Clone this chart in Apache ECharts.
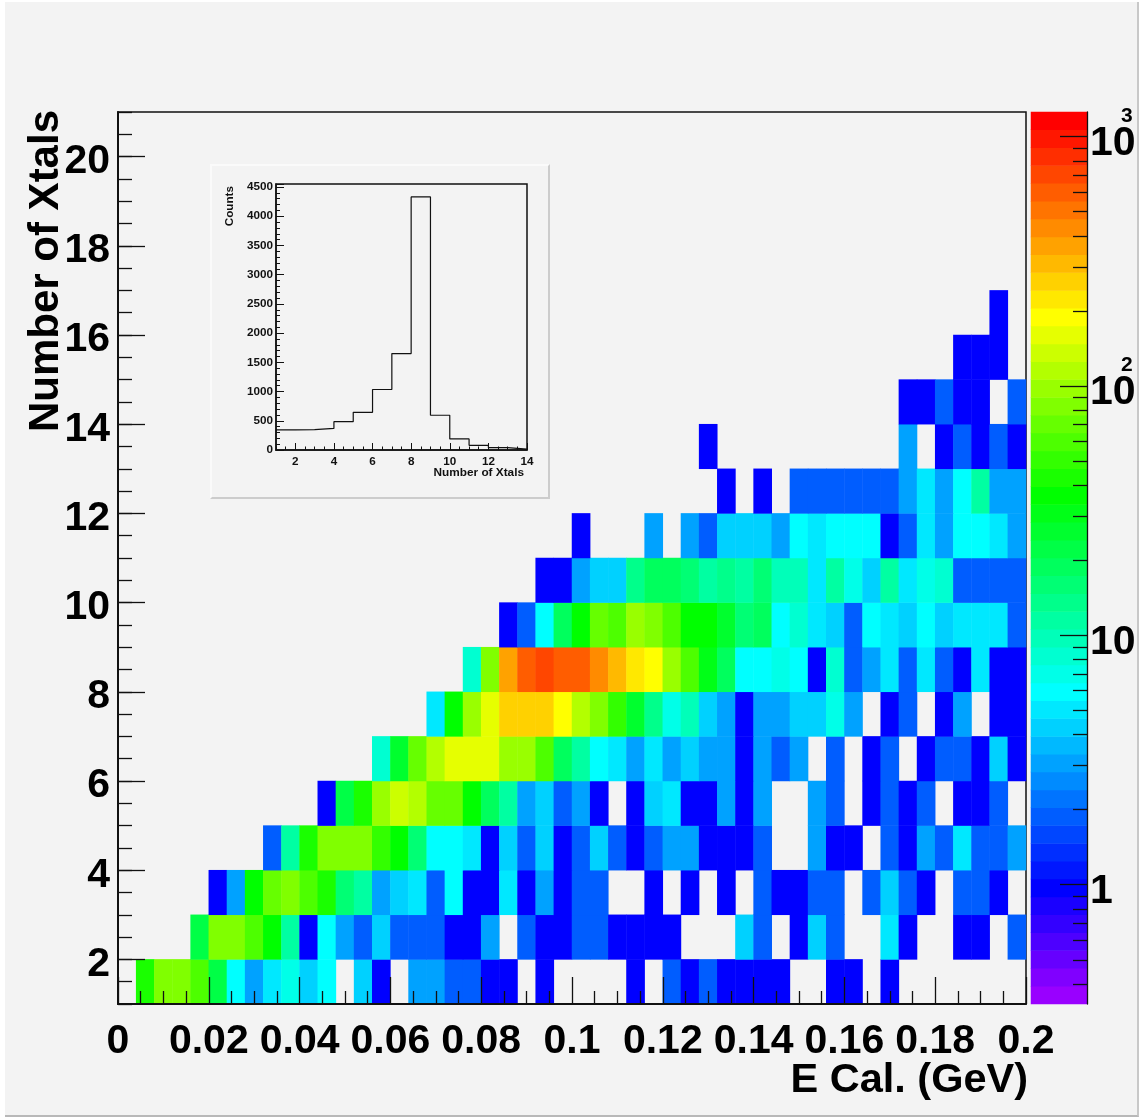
<!DOCTYPE html>
<html><head><meta charset="utf-8">
<style>
html,body{margin:0;padding:0;background:#fff;width:1144px;height:1120px;overflow:hidden}
#pane{position:absolute;left:5px;top:2px;width:1132px;height:1113px;background:#f3f3f3;border-right:2px solid #c8c8c8;border-bottom:2px solid #b8b8b8}
#pad{position:absolute;left:210px;top:164px;width:336px;height:331px;background:#f3f3f3;border:solid 2px;border-color:#fafafa #cccccc #cccccc #fafafa}
#chart{position:absolute;left:0;top:0;width:1144px;height:1120px}
</style>
<script src="https://cdn.jsdelivr.net/npm/echarts@6/dist/echarts.min.js"></script>
</head><body>
<div id="pane"></div><div id="pad"></div><div id="chart"></div>
<script>
// Counts per (E bin, Xtal bin); each row is one Number-of-Xtals bin, 50 E Cal. bins from 0 to 0.2 GeV
const row1  = [0,43,83,83,60,22,6,3,5,7, 4,6,0,4,1,0,3,3,2,2, 1,1,0,1,0,0,0,0,1,0, 2,1,2,1,1,1,1,0,0,1, 1,0,1,0,0,0,0,0,0,0];
const row2  = [0,0,0,0,22,83,83,60,37,11, 1,6,3,2,4,2,2,2,1,1, 3,0,2,1,1,2,2,1,1,1, 1,0,0,0,4,2,0,1,4,2, 0,0,5,1,0,0,1,1,0,2];
const row3  = [0,0,0,0,0,1,3,37,71,83, 60,43,15,11,3,4,5,2,6,1, 1,5,1,3,1,2,2,0,0,1, 0,1,0,1,0,2,1,1,2,2, 0,2,4,2,1,0,2,2,1,0];
const row4  = [0,0,0,0,0,0,0,0,2,11, 43,83,83,83,51,37,17,6,6,5, 1,4,2,4,1,2,4,2,1,2, 3,3,1,1,1,2,0,0,3,1, 1,0,2,1,3,2,5,2,2,3];
const row5  = [0,0,0,0,0,0,0,0,0,0, 0,1,22,43,105,137,116,71,71,37, 19,11,3,4,2,3,1,0,1,4, 5,1,1,3,1,3,0,0,3,2, 0,1,2,1,2,0,1,1,2,0];
const row6  = [0,0,0,0,0,0,0,0,0,0, 0,0,0,0,8,26,71,116,161,161, 161,98,98,60,19,11,6,5,3,5, 3,4,3,3,1,3,2,3,0,2, 0,1,2,0,1,2,2,1,4,1];
const row7  = [0,0,0,0,0,0,0,0,0,0, 0,0,0,0,0,0,0,5,37,98, 161,265,265,265,190,116,83,51,26,13, 7,9,4,3,1,3,3,4,4,7, 3,0,1,2,0,1,3,0,1,1];
const row8  = [0,0,0,0,0,0,0,0,0,0, 0,0,0,0,0,0,0,0,0,8, 83,368,604,713,604,604,435,312,225,190, 98,60,31,19,6,6,7,6,1,8, 2,3,5,2,5,2,1,5,1,1];
const row9  = [0,0,0,0,0,0,0,0,0,0, 0,0,0,0,0,0,0,0,0,0, 0,1,2,6,19,37,71,60,98,83, 60,37,37,26,15,19,6,8,5,4, 2,6,5,4,6,4,5,5,5,2];
const row10 = [0,0,0,0,0,0,0,0,0,0, 0,0,0,0,0,0,0,0,0,0, 0,0,0,1,1,3,4,4,13,19, 19,16,11,13,11,17,9,9,5,11, 7,4,11,5,7,8,2,2,2,2];
const row11 = [0,0,0,0,0,0,0,0,0,0, 0,0,0,0,0,0,0,0,0,0, 0,0,0,0,0,1,0,0,0,3, 0,3,2,4,4,4,3,6,5,6, 6,6,1,2,5,3,6,6,5,3];
const row12 = [0,0,0,0,0,0,0,0,0,0, 0,0,0,0,0,0,0,0,0,0, 0,0,0,0,0,0,0,0,0,0, 0,0,0,1,0,1,0,2,2,2, 2,2,2,3,5,3,6,11,3,3];
const row13 = [0,0,0,0,0,0,0,0,0,0, 0,0,0,0,0,0,0,0,0,0, 0,0,0,0,0,0,0,0,0,0, 0,0,1,0,0,0,0,0,0,0, 0,0,0,3,0,1,2,1,2,1];
const row14 = [0,0,0,0,0,0,0,0,0,0, 0,0,0,0,0,0,0,0,0,0, 0,0,0,0,0,0,0,0,0,0, 0,0,0,0,0,0,0,0,0,0, 0,0,0,1,1,2,1,1,0,2];
const row15 = [0,0,0,0,0,0,0,0,0,0, 0,0,0,0,0,0,0,0,0,0, 0,0,0,0,0,0,0,0,0,0, 0,0,0,0,0,0,0,0,0,0, 0,0,0,0,0,0,1,1,1,0];
const row16 = [0,0,0,0,0,0,0,0,0,0, 0,0,0,0,0,0,0,0,0,0, 0,0,0,0,0,0,0,0,0,0, 0,0,0,0,0,0,0,0,0,0, 0,0,0,0,0,0,0,0,1,0];
const rows = [row1,row2,row3,row4,row5,row6,row7,row8,row9,row10,row11,row12,row13,row14,row15,row16];

// Inset histogram: counts in bins 1-2, 2-3, ... 13-14
const insetEdges  = [1,2,3,4,5,6,7,8,9,10,11,12,13,14];
const insetCounts = [345,350,370,485,645,1035,1650,4330,595,190,80,40,15];

const yTicks = [2,4,6,8,10,12,14,16,18,20];
const insetXTicks = [2,4,6,8,10,12,14];
const zMajor = [1,10,100,1000];
const zMinor = [0.4,0.5,0.6,0.7,0.8,0.9,2,3,4,5,6,7,8,9,20,30,40,50,60,70,80,90,200,300,400,500,600,700,800,900];
const zExponents = [2,3];

const FONT = '"Liberation Sans", Arial, sans-serif';
const INK = '#111';
const Z = 5;

// Log colour scale, 50 discrete levels
const LOG_MIN = -0.4785, LOG_MAX = 3.099, LEVELS = 50;
const stops = [[0,[153,0,255]],[6,[0,0,255]],[17,[0,255,255]],[28,[0,255,0]],[38,[255,255,0]],[49,[255,0,0]]];
function levelColor(i){
  for(let s=0;s<stops.length-1;s++){
    const [a,ca]=stops[s],[b,cb]=stops[s+1];
    if(i>=a&&i<=b){const t=(i-a)/(b-a);
      return 'rgb('+ca.map((c,j)=>Math.round(c+(cb[j]-c)*t)).join(',')+')';}
  }
}
const step=(LOG_MAX-LOG_MIN)/LEVELS;
const pieces=[];
for(let i=0;i<LEVELS;i++) pieces.push({gte:LOG_MIN+i*step,lt:LOG_MIN+(i+1)*step,color:levelColor(i)});

const xCats=Array.from({length:50},(_,i)=>String(i));
const yCats=Array.from({length:20},(_,i)=>String(i));
const heat=[];
rows.forEach((r,j)=>r.forEach((v,i)=>{ if(v>0) heat.push([i,j,v,Math.log10(v)]); }));
const barCats=Array.from({length:LEVELS},(_,i)=>String(i));
const barData=barCats.map((_,i)=>{const l=LOG_MIN+(i+0.5)*step;return [0,i,Math.pow(10,l),l];});
const stepData=insetEdges.map((e,i)=>[e,insetCounts[Math.min(i,insetCounts.length-1)]]);

const frame=(w)=>({show:true,lineStyle:{color:INK,width:w}});
const hidden={show:false};

const option={
  animation:false,
  backgroundColor:'transparent',
  textStyle:{fontFamily:FONT},
  grid:[
    {left:118,top:112,width:908,height:892,show:true,borderColor:INK,borderWidth:1.5,backgroundColor:'transparent',outerBoundsMode:'none'},
    {left:276,top:184,width:251,height:266,show:true,borderColor:INK,borderWidth:1.5,backgroundColor:'transparent',outerBoundsMode:'none'},
    {left:1031,top:112,width:56,height:892,show:false,outerBoundsMode:'none'}
  ],
  xAxis:[
    {type:'category',gridIndex:0,data:xCats,axisLine:hidden,axisTick:hidden,axisLabel:hidden,splitLine:hidden},
    {type:'value',gridIndex:0,min:0,max:0.2,interval:0.02,position:'bottom',z:Z,
      axisLine:frame(2),splitLine:hidden,
      axisTick:{show:true,inside:true,length:27,lineStyle:{color:INK,width:1.3}},
      minorTick:{show:true,splitNumber:4,length:13,lineStyle:{color:INK,width:1.3}},
      minorSplitLine:hidden,
      axisLabel:{show:true,fontFamily:FONT,fontWeight:'bold',fontSize:41,color:'#000',margin:17,verticalAlign:'top',hideOverlap:false,showMinLabel:true,showMaxLabel:true,
        formatter:v=>String(+v.toFixed(2))},
      name:'E Cal. (GeV)',nameLocation:'end',nameGap:0,nameMoveOverlap:false,
      nameTextStyle:{fontFamily:FONT,fontWeight:'bold',fontSize:41.5,color:'#000',align:'right',verticalAlign:'top',padding:[56,-2,0,0]}},
    {type:'value',gridIndex:1,min:1,max:14,interval:0.5,position:'bottom',z:Z,
      axisLine:frame(1.5),splitLine:hidden,
      axisTick:{show:true,inside:true,length:3.5,lineStyle:{color:INK,width:1}},
      axisLabel:hidden},
    {type:'value',gridIndex:1,min:1,max:14,position:'bottom',z:Z,
      axisLine:hidden,splitLine:hidden,
      axisTick:{show:true,inside:true,length:7,lineStyle:{color:INK,width:1},customValues:insetXTicks},
      axisLabel:{show:true,fontFamily:FONT,fontWeight:'bold',fontSize:11.7,color:'#111',margin:6,customValues:insetXTicks},
      name:'Number of Xtals',nameLocation:'end',nameGap:0,nameMoveOverlap:false,
      nameTextStyle:{fontFamily:FONT,fontWeight:'bold',fontSize:11.8,color:'#111',align:'right',verticalAlign:'top',padding:[17,3,0,0]}},
    {type:'category',gridIndex:2,data:['0'],axisLine:hidden,axisTick:hidden,axisLabel:hidden,splitLine:hidden}
  ],
  yAxis:[
    {type:'category',gridIndex:0,data:yCats,axisLine:hidden,axisTick:hidden,axisLabel:hidden,splitLine:hidden},
    {type:'value',gridIndex:0,min:1,max:21,interval:0.5,position:'left',z:Z,
      axisLine:frame(2),splitLine:hidden,
      axisTick:{show:true,inside:true,length:14,lineStyle:{color:INK,width:1.3}},
      axisLabel:hidden},
    {type:'value',gridIndex:0,min:1,max:21,position:'left',z:Z,
      axisLine:hidden,splitLine:hidden,
      axisTick:{show:true,inside:true,length:27,lineStyle:{color:INK,width:1.3},customValues:yTicks},
      axisLabel:{show:true,fontFamily:FONT,fontWeight:'bold',fontSize:41,color:'#000',margin:8,verticalAlign:'bottom',padding:[0,0,-25.5,0],customValues:yTicks},
      name:'Number of Xtals',nameLocation:'end',nameGap:0,nameRotate:90,nameMoveOverlap:false,
      nameTextStyle:{fontFamily:FONT,fontWeight:'bold',fontSize:42,color:'#000',align:'right',verticalAlign:'bottom',padding:[0,-2,51,0]}},
    {type:'value',gridIndex:1,min:0,max:4552,interval:500,position:'left',z:Z,
      axisLine:frame(1.5),splitLine:hidden,
      axisTick:{show:true,inside:true,length:8,lineStyle:{color:INK,width:1}},
      minorTick:{show:true,splitNumber:5,length:4,lineStyle:{color:INK,width:1}},
      axisLabel:{show:true,fontFamily:FONT,fontWeight:'bold',fontSize:11.7,color:'#111',margin:3,showMaxLabel:false,formatter:v=>String(v)},
      name:'Counts',nameLocation:'end',nameGap:0,nameRotate:90,nameMoveOverlap:false,
      nameTextStyle:{fontFamily:FONT,fontWeight:'bold',fontSize:11.7,color:'#111',align:'right',verticalAlign:'bottom',padding:[0,2,40,0]}},
    {type:'category',gridIndex:2,data:barCats,axisLine:hidden,axisTick:hidden,axisLabel:hidden,splitLine:hidden},
    {type:'value',gridIndex:2,min:LOG_MIN,max:LOG_MAX,position:'right',z:Z,
      axisLine:frame(1.3),splitLine:hidden,
      axisTick:{show:true,inside:true,length:27,lineStyle:{color:INK,width:1.3},customValues:zMajor.map(Math.log10)},
      axisLabel:{show:true,fontFamily:FONT,fontWeight:'bold',fontSize:41,color:'#000',margin:3,verticalAlign:'bottom',padding:[0,0,-27.5,0],customValues:zMajor.map(Math.log10),
        formatter:v=>Math.round(v)===0?'1':'10'}},
    {type:'value',gridIndex:2,min:LOG_MIN,max:LOG_MAX,position:'right',z:Z,
      axisLine:hidden,splitLine:hidden,
      axisTick:{show:true,inside:true,length:14,lineStyle:{color:INK,width:1.3},customValues:zMinor.map(Math.log10)},
      axisLabel:{show:true,fontFamily:FONT,fontWeight:'bold',fontSize:21,color:'#000',margin:34,customValues:zExponents,
        verticalAlign:'bottom',padding:[0,0,10,0],formatter:v=>String(v)}}
  ],
  visualMap:{type:'piecewise',show:false,dimension:3,seriesIndex:[0,1],pieces:pieces},
  series:[
    {type:'heatmap',xAxisIndex:0,yAxisIndex:0,data:heat,itemStyle:{borderWidth:0},progressive:0},
    {type:'heatmap',xAxisIndex:4,yAxisIndex:4,data:barData,itemStyle:{borderWidth:0},progressive:0},
    {type:'line',xAxisIndex:2,yAxisIndex:3,data:stepData,step:'end',showSymbol:false,
      lineStyle:{color:'#111',width:1.2},silent:true,z:6}
  ]
};
echarts.init(document.getElementById('chart'),null,{renderer:'canvas'}).setOption(option);
</script>
</body></html>
